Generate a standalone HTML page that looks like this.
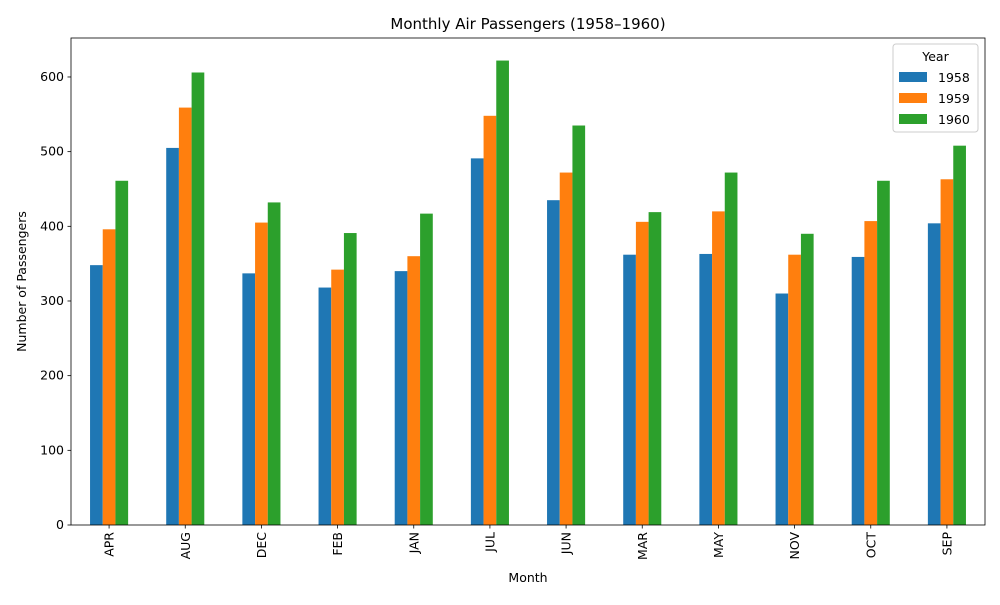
<!DOCTYPE html>
<html><head><meta charset="utf-8"><style>
body{margin:0;background:#fff;font-family:"Liberation Sans","DejaVu Sans",sans-serif;}
svg text{font-family:"DejaVu Sans","Liberation Sans",sans-serif;}
</style></head><body>
<svg id="chart" width="1000" height="600" xmlns="http://www.w3.org/2000/svg"></svg>
<script>
const categories=["APR","AUG","DEC","FEB","JAN","JUL","JUN","MAR","MAY","NOV","OCT","SEP"];
const years=["1958","1959","1960"];
const s1958=[348,505,337,318,340,491,435,362,363,310,359,404];
const s1959=[396,559,405,342,360,548,472,406,420,362,407,463];
const s1960=[461,606,432,391,417,622,535,419,472,390,461,508];
const yTicks=[0,100,200,300,400,500,600];
const colors=["#1f77b4","#ff7f0e","#2ca02c"];
const series=[s1958,s1959,s1960];
const L=71,R=985,T=38,B=525,YMAX=652.2;
const NS="http://www.w3.org/2000/svg";
const svg=document.getElementById('chart');
function el(t,a,p){const e=document.createElementNS(NS,t);for(const k in a)e.setAttribute(k,a[k]);(p||svg).appendChild(e);return e;}
const y=v=>B-(v/YMAX)*(B-T);
const step=(R-L)/categories.length;
const x=i=>L+step*(i+0.5);
const bw=step*0.5/3;
const bars=el('g',{});


series.forEach((s,si)=>{s.forEach((v,i)=>{
 const r=el('rect',{x:x(i)-1.5*bw+si*bw,y:y(v),width:bw,height:B-y(v),fill:colors[si]},bars);
 
 
});});
const ax=el('rect',{x:L,y:T,width:R-L,height:B-T,fill:'none',stroke:'#000','stroke-width':0.8});


yTicks.forEach(t=>{
 el('line',{x1:L-3.5,x2:L,y1:y(t),y2:y(t),stroke:'#000','stroke-width':0.8});
 const tx=el('text',{x:L-7,y:y(t)+4,'text-anchor':'end','font-size':12.5});tx.textContent=t;
 
 
});
categories.forEach((c,i)=>{
 el('line',{x1:x(i),x2:x(i),y1:B,y2:B+3.5,stroke:'#000','stroke-width':0.8});
 const tx=el('text',{transform:`translate(${x(i)+4.5},${B+7}) rotate(-90)`,'text-anchor':'end','font-size':12.5});tx.textContent=c;
 
 
});
let t=el('text',{x:(L+R)/2,y:29,'text-anchor':'middle','font-size':15});t.textContent="Monthly Air Passengers (1958–1960)";


t=el('text',{x:(L+R)/2,y:582,'text-anchor':'middle','font-size':12.5});t.textContent="Month";


t=el('text',{transform:`translate(26,${(T+B)/2}) rotate(-90)`,'text-anchor':'middle','font-size':12.5});t.textContent="Number of Passengers";


const lg=el('g',{});


el('rect',{x:893,y:44,width:85,height:88,rx:3,fill:'#fff',stroke:'#ccc'},lg);
t=el('text',{x:935.5,y:61,'text-anchor':'middle','font-size':12.5},lg);t.textContent="Year";
years.forEach((yr,i)=>{
 const g=el('g',{},lg);
 
 
 el('rect',{x:899,y:72+i*21,width:28,height:10,fill:colors[i]},g);
 const tx=el('text',{x:938,y:82+i*21,'font-size':12.5},g);tx.textContent=yr;
});
</script>
</body></html>
